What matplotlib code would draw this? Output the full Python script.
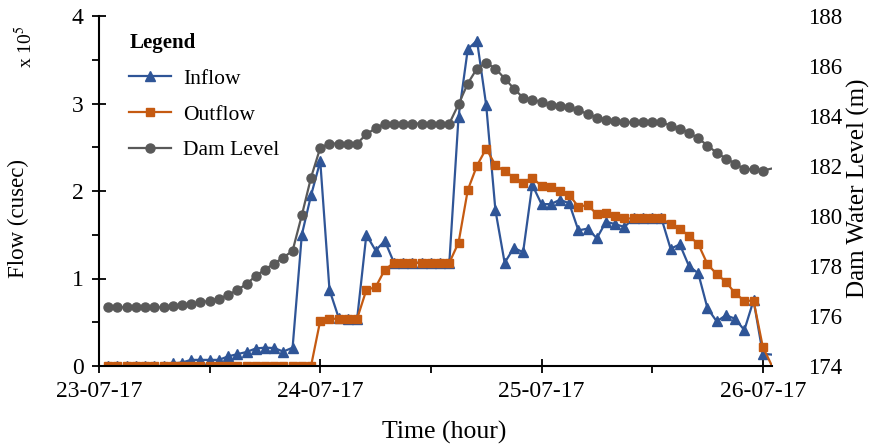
import matplotlib.pyplot as plt
from matplotlib.ticker import MultipleLocator, FixedLocator

plt.rcParams['font.family'] = ['Liberation Serif', 'DejaVu Serif']
plt.rcParams['mathtext.fontset'] = 'stix'

# hourly readings, hour 1 = 23-07-17 01:00
hours = list(range(1, 74))

# flow in units of 1e5 cusec
inflow = [0, 0, 0, 0, 0, 0, 0,
          0.03, 0.04, 0.07, 0.07, 0.07, 0.07, 0.11, 0.135, 0.16, 0.2, 0.21, 0.205, 0.165, 0.21,
          1.5, 1.95, 2.34, 0.87, 0.55, 0.54, 0.54, 1.5, 1.32, 1.43,
          1.18, 1.18, 1.18, 1.18, 1.18, 1.18, 1.18,
          2.85, 3.62, 3.72, 2.98, 1.78, 1.18, 1.35, 1.3, 2.07, 1.85, 1.85, 1.9, 1.86,
          1.55, 1.57, 1.46, 1.65, 1.62, 1.59,
          1.69, 1.69, 1.69, 1.69,
          1.34, 1.39, 1.14, 1.06, 0.66, 0.51, 0.58, 0.54, 0.41, 0.75, 0.14, 0.13]

outflow = [0] * 23 + [0.52, 0.54, 0.54, 0.54, 0.54, 0.87, 0.9, 1.1,
           1.18, 1.18, 1.18, 1.18, 1.18, 1.18, 1.18,
           1.41, 2.01, 2.29, 2.485, 2.295, 2.226, 2.154, 2.097, 2.154, 2.055, 2.047, 2.0, 1.956,
           1.82, 1.84, 1.735, 1.743, 1.715,
           1.686, 1.686, 1.686, 1.686, 1.686,
           1.62, 1.564, 1.488, 1.393, 1.164, 1.05, 0.963, 0.83, 0.746, 0.746, 0.22, 0.0]

dam_level = [176.35] * 7 + [176.39, 176.43, 176.48, 176.55, 176.61, 176.69, 176.84, 177.04,
             177.28, 177.6, 177.86, 178.1, 178.34, 178.61, 180.03, 181.54, 182.73,
             182.9, 182.9, 182.9, 182.9, 183.27, 183.51,
             183.7, 183.7, 183.7, 183.7, 183.7, 183.7, 183.7, 183.7,
             184.47, 185.3, 185.9, 186.12, 185.9, 185.5, 185.1, 184.73, 184.66, 184.55,
             184.46, 184.39, 184.35, 184.23, 184.08, 183.94, 183.86, 183.8,
             183.75, 183.75, 183.75, 183.75, 183.75,
             183.62, 183.5, 183.33, 183.11, 182.82, 182.53, 182.3, 182.1, 181.87, 181.87,
             181.82, 181.9]

day_ticks = [0, 24, 48, 72]
day_labels = ['23-07-17', '24-07-17', '25-07-17', '26-07-17']

c_in = '#2F5597'
c_out = '#C55A11'
c_dam = '#595959'

fig = plt.figure(figsize=(8.72, 4.47), dpi=100)
ax = fig.add_axes([99 / 872, 81 / 447, 673 / 872, 350 / 447])
ax2 = ax.twinx()

marks = slice(0, 72)
l1, = ax.plot(hours, inflow, color=c_in, lw=1.6, marker='^', ms=6.8, markevery=marks, label='Inflow')
l2, = ax.plot(hours, outflow, color=c_out, lw=1.6, marker='s', ms=6, markevery=marks, label='Outflow')
l3, = ax2.plot(hours, dam_level, color=c_dam, lw=1.6, marker='o', ms=6.5, markevery=marks, label='Dam Level')

ax.set_xlim(0, 73)
ax.set_ylim(0, 4)
ax2.set_ylim(174, 188)

ax.set_xticks(day_ticks)
ax.set_xticklabels(day_labels)
ax.xaxis.set_minor_locator(FixedLocator([12, 36, 60]))
ax.yaxis.set_major_locator(MultipleLocator(1))
ax.yaxis.set_minor_locator(MultipleLocator(0.5))
ax2.yaxis.set_major_locator(MultipleLocator(2))

for s in ['top', 'right']:
    ax.spines[s].set_visible(False)
for s in ['top', 'right', 'left', 'bottom']:
    ax2.spines[s].set_visible(False)
ax.spines['left'].set_linewidth(1.5)
ax.spines['bottom'].set_linewidth(1.5)

ax.tick_params(which='major', direction='inout', length=10, width=1.3, labelsize=17, pad=6)
ax.tick_params(which='minor', direction='out', length=5, width=1.3)
ax2.tick_params(axis='y', length=0, labelsize=16.5, pad=26)

fig.text(444 / 872, 1 - 432 / 447, 'Time (hour)', ha='center', va='center', fontsize=18.5)
fig.text(18 / 872, 1 - 218 / 447, 'Flow (cusec)', ha='center', va='center', rotation=90, fontsize=16.5)
fig.text(858 / 872, 1 - 188 / 447, 'Dam Water Level (m)', ha='center', va='center', rotation=90, fontsize=18)
fig.text(25 / 872, 1 - 47 / 447, r'x 10$^{5}$', ha='center', va='center', rotation=90, fontsize=14)

leg = ax2.legend(handles=[l1, l2, l3], title='Legend', loc='upper left',
                 bbox_to_anchor=(110 / 872, 1 - 14 / 447), bbox_transform=fig.transFigure,
                 frameon=False, fontsize=15.5, title_fontproperties={'weight': 'bold', 'size': 15},
                 alignment='left', numpoints=1, handlelength=1.95, handletextpad=0.55,
                 labelspacing=0.72)

fig.savefig('out.png', dpi=100)
